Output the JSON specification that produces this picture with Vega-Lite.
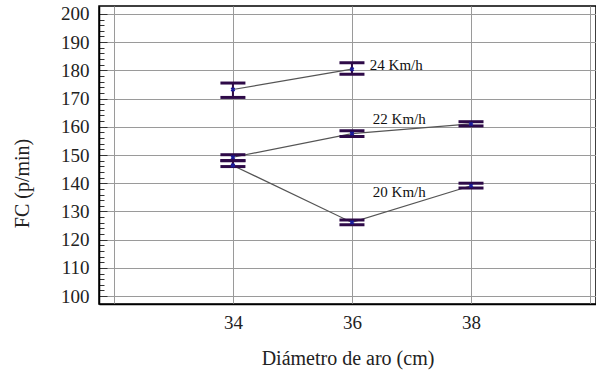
{
  "$schema": "https://vega.github.io/schema/vega-lite/v6.json",
  "autosize": {"type": "none"},
  "width": 497,
  "height": 298,
  "padding": {"left": 99, "top": 6, "right": 0, "bottom": 71},
  "background": "white",
  "config": {
    "view": {"stroke": "black", "strokeWidth": 1.5},
    "font": "Liberation Serif",
    "axis": {"labelOverlap": false, "labelFont": "Liberation Serif", "titleFont": "Liberation Serif"}
  },
  "datasets": {
    "pts": [
      {"serie": "24 Km/h", "diametro": 34, "fc": 173.2, "lo": 170.4, "hi": 175.5},
      {"serie": "24 Km/h", "diametro": 36, "fc": 180.4, "lo": 178.6, "hi": 182.7},
      {"serie": "22 Km/h", "diametro": 34, "fc": 149.2, "lo": 148.0, "hi": 150.1},
      {"serie": "22 Km/h", "diametro": 36, "fc": 157.6, "lo": 156.6, "hi": 158.6},
      {"serie": "22 Km/h", "diametro": 38, "fc": 161.0, "lo": 160.3, "hi": 161.8},
      {"serie": "20 Km/h", "diametro": 34, "fc": 146.3, "lo": 145.9, "hi": 148.0},
      {"serie": "20 Km/h", "diametro": 36, "fc": 126.1, "lo": 125.3, "hi": 127.0},
      {"serie": "20 Km/h", "diametro": 38, "fc": 139.1, "lo": 138.3, "hi": 140.0}
    ],
    "labels": [
      {"texto": "24 Km/h", "x": 36.3, "y": 181.9},
      {"texto": "22 Km/h", "x": 36.35, "y": 162.8},
      {"texto": "20 Km/h", "x": 36.35, "y": 137.0}
    ]
  },
  "layer": [
    {
      "data": {"name": "pts"},
      "mark": {"type": "line", "color": "#555555", "strokeWidth": 1.2},
      "encoding": {
        "x": {
          "field": "diametro", "type": "quantitative",
          "scale": {"domain": [31.75, 40.1], "nice": false, "zero": false},
          "axis": {
            "values": [32, 34, 36, 38, 40],
            "tickCount": 100,
            "format": "d",
            "labelExpr": "(datum.value == 34 || datum.value == 36 || datum.value == 38) ? datum.label : ''",
            "labelFlush": false,
            "title": "Diámetro de aro (cm)",
            "titleFont": "Liberation Serif",
            "titleFontSize": 20,
            "titleFontWeight": "normal",
            "titleColor": "#222222",
            "titleY": 54,
            "titleBaseline": "middle",
            "labelFont": "Liberation Serif",
            "labelFontSize": 19,
            "labelColor": "#222222",
            "labelPadding": 9,
            "ticks": false,
            "domainColor": "black",
            "domainWidth": 1.5,
            "gridColor": "#9a9a9a",
            "gridOpacity": 1,
            "gridWidth": 1
          }
        },
        "y": {
          "field": "fc", "type": "quantitative",
          "scale": {"domain": [97.2, 202.8], "nice": false, "zero": false},
          "axis": {
            "values": [100,102,104,106,108,110,112,114,116,118,120,122,124,126,128,130,132,134,136,138,140,142,144,146,148,150,152,154,156,158,160,162,164,166,168,170,172,174,176,178,180,182,184,186,188,190,192,194,196,198,200],
            "tickCount": 100,
            "format": "d",
            "labelExpr": "datum.value % 10 == 0 ? datum.label : ''",
            "labelFlush": false,
            "title": "FC (p/min)",
            "titleFont": "Liberation Serif",
            "titleFontSize": 20,
            "titleFontWeight": "normal",
            "titleColor": "#222222",
            "titleX": -77,
            "titleY": 177,
            "titleBaseline": "middle",
            "titleAlign": "center",
            "titleAngle": -90,
            "labelFont": "Liberation Serif",
            "labelFontSize": 19,
            "labelColor": "#222222",
            "labelPadding": 18,
            "tickSize": {"condition": {"test": "datum.value % 10 == 0", "value": -8}, "value": -5},
            "tickColor": "#333333",
            "tickWidth": 1,
            "domainColor": "black",
            "domainWidth": 1.5,
            "gridColor": "#9a9a9a",
            "gridWidth": 1,
            "gridOpacity": {"condition": {"test": "datum.value % 10 == 0", "value": 1}, "value": 0}
          }
        },
        "detail": {"field": "serie"}
      }
    },
    {
      "data": {"name": "pts"},
      "mark": {"type": "rule", "color": "#2e0a48", "strokeWidth": 2},
      "encoding": {
        "x": {"field": "diametro", "type": "quantitative"},
        "y": {"field": "lo", "type": "quantitative"},
        "y2": {"field": "hi"}
      }
    },
    {
      "data": {"name": "pts"},
      "mark": {"type": "tick", "orient": "horizontal", "color": "#2e0a48", "size": 25, "thickness": 3, "opacity": 1},
      "encoding": {
        "x": {"field": "diametro", "type": "quantitative"},
        "y": {"field": "lo", "type": "quantitative"}
      }
    },
    {
      "data": {"name": "pts"},
      "mark": {"type": "tick", "orient": "horizontal", "color": "#2e0a48", "size": 25, "thickness": 3, "opacity": 1},
      "encoding": {
        "x": {"field": "diametro", "type": "quantitative"},
        "y": {"field": "hi", "type": "quantitative"}
      }
    },
    {
      "data": {"name": "pts"},
      "mark": {"type": "point", "shape": "cross", "filled": true, "color": "#1a1a9a", "size": 22, "opacity": 1, "angle": 45},
      "encoding": {
        "x": {"field": "diametro", "type": "quantitative"},
        "y": {"field": "fc", "type": "quantitative"}
      }
    },
    {
      "data": {"name": "labels"},
      "mark": {"type": "text", "align": "left", "baseline": "middle", "font": "Liberation Serif", "fontSize": 15, "color": "#111111"},
      "encoding": {
        "x": {"field": "x", "type": "quantitative"},
        "y": {"field": "y", "type": "quantitative"},
        "text": {"field": "texto"}
      }
    }
  ]
}
